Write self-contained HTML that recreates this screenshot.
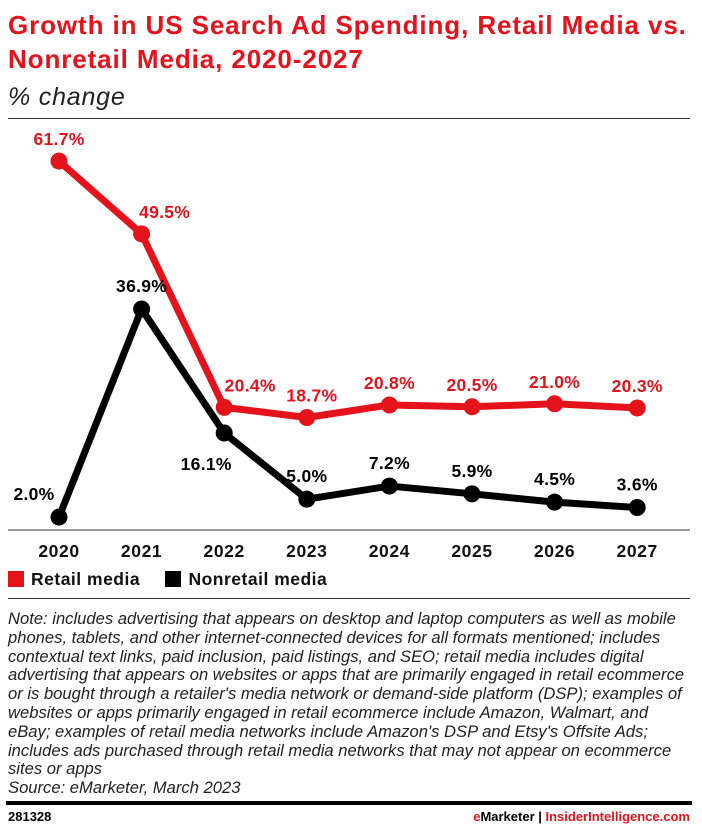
<!DOCTYPE html>
<html><head><meta charset="utf-8"><style>
body{margin:0;width:702px;height:834px;background:#fff;font-family:"Liberation Sans",sans-serif;position:relative;overflow:hidden}
.a{position:absolute}
</style></head><body>
<div class="a" style="left:8px;top:8px;font-size:26px;font-weight:bold;color:#e3121b;line-height:34px;letter-spacing:0.9px;white-space:nowrap">Growth in US Search Ad Spending, Retail Media vs.<br>Nonretail Media, 2020-2027</div>
<div class="a" style="left:8px;top:83px;font-size:25px;font-style:italic;color:#222;letter-spacing:0.8px">% change</div>
<div class="a" style="left:8px;top:118px;width:682px;height:1px;background:#333"></div>
<svg class="a" style="left:0;top:0" width="702" height="600">
<line x1="8" x2="690" y1="530" y2="530" stroke="#333" stroke-width="1"/>
<g id="g"></g>
</svg>
<div class="a" style="left:8px;top:569px;font-size:17.5px;font-weight:bold;color:#111;letter-spacing:0.5px">
<span><span style="display:inline-block;width:16px;height:16px;background:#e3121b;vertical-align:-2px;margin-right:7px"></span>Retail media</span>
<span style="margin-left:20px"><span style="display:inline-block;width:16px;height:16px;background:#000;vertical-align:-2px;margin-right:7px"></span>Nonretail media</span></div>
<div class="a" style="left:8px;top:598px;width:682px;height:1px;background:#333"></div>
<div class="a" style="left:8px;top:610px;font-size:16.6px;font-style:italic;color:#222;line-height:18.8px;white-space:nowrap">Note: includes advertising that appears on desktop and laptop computers as well as mobile<br>phones, tablets, and other internet-connected devices for all formats mentioned; includes<br>contextual text links, paid inclusion, paid listings, and SEO; retail media includes digital<br>advertising that appears on websites or apps that are primarily engaged in retail ecommerce<br>or is bought through a retailer's media network or demand-side platform (DSP); examples of<br>websites or apps primarily engaged in retail ecommerce include Amazon, Walmart, and<br>eBay; examples of retail media networks include Amazon's DSP and Etsy's Offsite Ads;<br>includes ads purchased through retail media networks that may not appear on ecommerce<br>sites or apps<br>Source: eMarketer, March 2023</div>
<div class="a" style="left:6px;top:801px;width:686px;height:4px;background:#000"></div>
<div class="a" style="left:8px;top:809px;font-size:13px;font-weight:bold">281328</div>
<div class="a" style="right:12px;top:809px;font-size:13px;font-weight:bold"><span style="color:#e3121b">e</span>Marketer | <span style="color:#e3121b">InsiderIntelligence.com</span></div>
<script>
const years=["2020","2021","2022","2023","2024","2025","2026","2027"];
const retail=[61.7,49.5,20.4,18.7,20.8,20.5,21.0,20.3];
const nonretail=[2.0,36.9,16.1,5.0,7.2,5.9,4.5,3.6];
const NS="http://www.w3.org/2000/svg";
const g=document.getElementById('g');
const xs=i=>59+i*82.6;
const ys=v=>529-v*5.963;
function mk(t,a){const e=document.createElementNS(NS,t);for(const k in a)e.setAttribute(k,a[k]);g.appendChild(e);return e;}
years.forEach((y,i)=>{const t=mk('text',{x:xs(i),y:557,'text-anchor':'middle','font-size':17.5,'font-weight':'bold',fill:'#111','letter-spacing':0.6});t.textContent=y;

});
function series(d,c,name,lab){
const p=mk('polyline',{points:d.map((v,i)=>xs(i)+','+ys(v)).join(' '),fill:'none',stroke:c,'stroke-width':7,'stroke-linejoin':'round'});


d.forEach((v,i)=>{const cc=mk('circle',{cx:xs(i),cy:ys(v),r:8.5,fill:c});


const o=lab(i);const t=mk('text',{x:xs(i)+o[0],y:ys(v)+o[1],'text-anchor':'middle','font-size':17.5,'font-weight':'bold',fill:c,'letter-spacing':0.3});
t.textContent=v.toFixed(1)+'%';

});}
series(retail,'#e3121b','retail',i=>[[0,23,26,5][i]||0,-16]);
series(nonretail,'#000','nonretail',i=>i==0?[-25,-17]:(i==2?[-18,37]:[0,-17]));
</script>
</body></html>
